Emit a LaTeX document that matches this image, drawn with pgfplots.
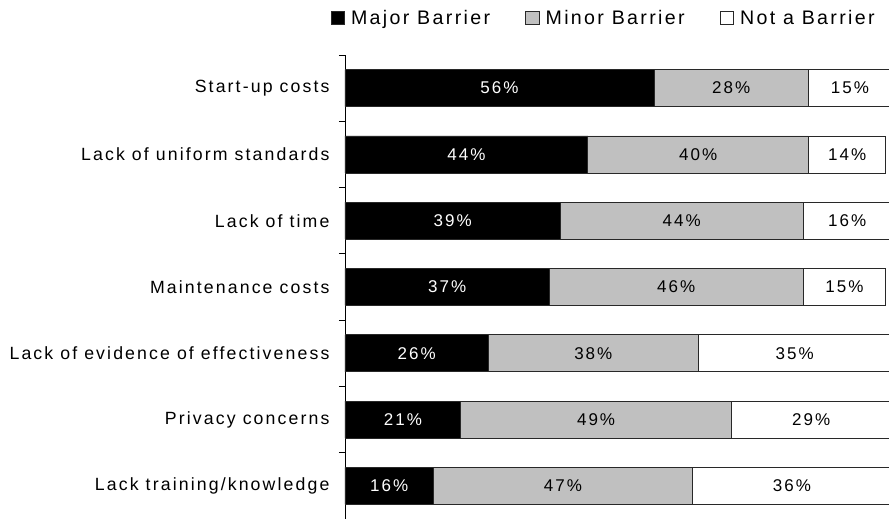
\documentclass[border=0pt]{standalone}
\usepackage{pgfplots}
\pgfplotsset{compat=1.18}
\usepackage{fontspec}
\setmainfont{Liberation Sans}[LetterSpace=12]
\definecolor{minorgray}{RGB}{192,192,192}
\definecolor{edgegray}{RGB}{40,40,40}

\begin{document}
\begin{tikzpicture}[font=\fontsize{17}{20}\selectfont]
\begin{axis}[
  xbar stacked,
  width=551.8pt, height=464pt, scale only axis,
  xmin=0, xmax=100,
  ymin=-0.5, ymax=6.5,
  bar width=37pt,
  axis y line*=left, axis x line=none,
  ytick={0,...,6},
  yticklabels={Lack training/knowledge, Privacy concerns, Lack of evidence of effectiveness, Maintenance costs, Lack of time, Lack of uniform standards, Start-up costs},
  major tick length=0pt,
  minor ytick={-0.5,0.5,...,6.5},
  minor tick length=6pt,
  tick align=outside,
  tick style={black, line width=0.8pt},
  y axis line style={black, line width=0.8pt},
  yticklabel style={xshift=-12pt, font=\fontsize{17.7}{21}\selectfont},
  /pgf/number format/assume math mode=true,
  legend style={at={(0.964,1.0797)}, anchor=east, legend columns=-1, draw=none, fill=none,
    inner sep=0pt, font=\fontsize{19.6}{23}\selectfont,
    /tikz/every even column/.append style={column sep=33pt}},
  legend image code/.code={\draw[#1, line width=0.8pt] (0pt,-6.8pt) rectangle (13.6pt,6.8pt); \path (17.6pt,0pt);},
  nodes near coords={\pgfmathprintnumber{\pgfplotspointmeta}\%},
  every node near coord/.append style={anchor=center, font=\fontsize{17}{20}\selectfont},
]
\coordinate (ll) at (rel axis cs:0,0);
\addplot[fill=black, draw=edgegray, line width=0.8pt, every node near coord/.append style={text=white}] coordinates {
  (16,0) (21,1) (26,2) (37,3) (39,4) (44,5) (56,6)};
\addplot[fill=minorgray, draw=edgegray, line width=0.8pt, every node near coord/.append style={text=black}] coordinates {
  (47,0) (49,1) (38,2) (46,3) (44,4) (40,5) (28,6)};
\addplot[fill=white, draw=edgegray, line width=0.8pt, every node near coord/.append style={text=black}] coordinates {
  (36,0) (29,1) (35,2) (15,3) (16,4) (14,5) (15,6)};
\legend{Major Barrier, Minor Barrier, Not a Barrier}
\end{axis}
\pgfresetboundingbox
\path ([xshift=-345pt]ll) rectangle ([xshift=544pt, yshift=519pt]ll);
\end{tikzpicture}
\end{document}
